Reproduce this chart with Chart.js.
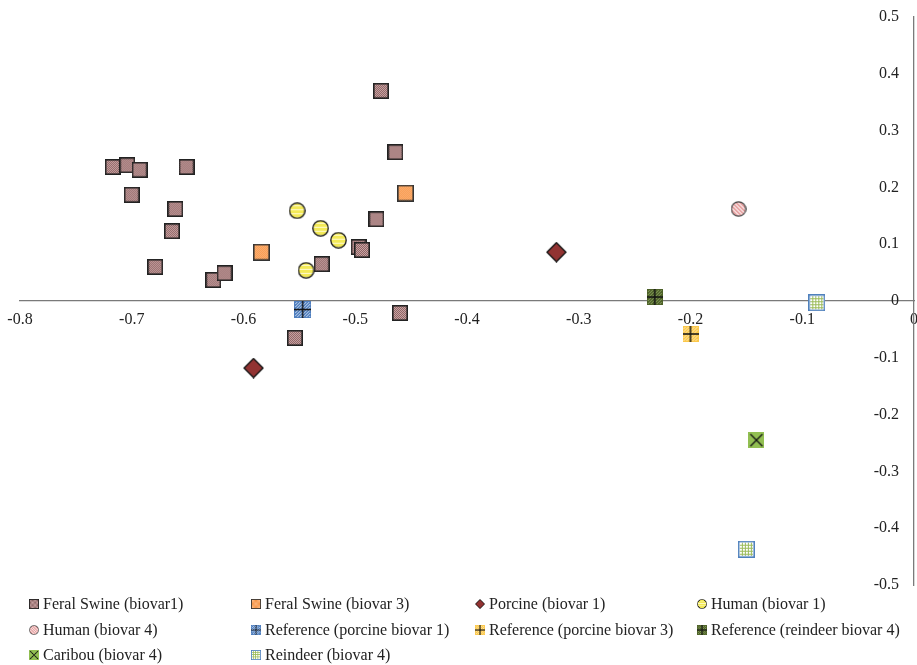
<!DOCTYPE html>
<html>
<head>
<meta charset="utf-8">
<script src="https://cdn.jsdelivr.net/npm/chart.js@4"></script>
<style>
  body { margin: 0; background: #fff; }
  canvas { display: block; }
</style>
</head>
<body>
<canvas id="pca-chart" width="917" height="665"></canvas>
<script>
// Scatter of the first two coordinates, one series per group

const seriesLabels = [
    "Feral Swine (biovar1)",
    "Feral Swine (biovar 3)",
    "Porcine (biovar 1)",
    "Human (biovar 1)",
    "Human (biovar 4)",
    "Reference (porcine biovar 1)",
    "Reference (porcine biovar 3)",
    "Reference (reindeer biovar 4)",
    "Caribou (biovar 4)",
    "Reindeer (biovar 4)",
];

const feralSwine1X = [-0.477, -0.464, -0.717, -0.704, -0.693, -0.651, -0.700, -0.661, -0.664, -0.679, -0.627, -0.617, -0.481, -0.497, -0.494, -0.530, -0.460, -0.554];
const feralSwine1Y = [0.370, 0.262, 0.236, 0.239, 0.231, 0.236, 0.187, 0.162, 0.123, 0.060, 0.037, 0.049, 0.144, 0.095, 0.090, 0.065, -0.021, -0.065];
const feralSwine3X = [-0.584, -0.455];
const feralSwine3Y = [0.086, 0.190];
const porcine1X = [-0.320, -0.591];
const porcine1Y = [0.086, -0.118];
const human1X = [-0.552, -0.531, -0.515, -0.544];
const human1Y = [0.159, 0.128, 0.107, 0.054];
const human4X = [-0.157];
const human4Y = [0.162];
const refPorcine1X = [-0.547];
const refPorcine1Y = [-0.015];
const refPorcine3X = [-0.200];
const refPorcine3Y = [-0.058];
const refReindeer4X = [-0.232];
const refReindeer4Y = [0.007];
const caribou4X = [-0.141];
const caribou4Y = [-0.245];
const reindeer4X = [-0.087, -0.150];
const reindeer4Y = [-0.003, -0.437];

const xTicks = [-0.8, -0.7, -0.6, -0.5, -0.4, -0.3, -0.2, -0.1, 0];
const yTicks = [-0.5, -0.4, -0.3, -0.2, -0.1, 0, 0.1, 0.2, 0.3, 0.4, 0.5];

// small canvases used as point styles
function makeMarker(size, draw) {
    const c = document.createElement("canvas");
    c.width = size;
    c.height = size;
    draw(c.getContext("2d"), size);
    return c;
}

function dots(ctx, s, color, step) {
    ctx.fillStyle = color;
    for (let i = 1; i < s - 1; i++) {
        for (let j = 1; j < s - 1; j++) {
            if ((i + j) % step === 0) ctx.fillRect(i, j, 1, 1);
        }
    }
}

function plus(ctx, s) {
    ctx.strokeStyle = "#111";
    ctx.lineWidth = 1.5;
    ctx.beginPath();
    ctx.moveTo(s / 2, 0);
    ctx.lineTo(s / 2, s);
    ctx.moveTo(0, s / 2);
    ctx.lineTo(s, s / 2);
    ctx.stroke();
}

const markers = [
    makeMarker(16, (ctx, s) => {
        ctx.fillStyle = "#8a6262";
        ctx.fillRect(0, 0, s, s);
        dots(ctx, s, "#cfa8a8", 2);
        ctx.strokeStyle = "#222";
        ctx.lineWidth = 1.6;
        ctx.strokeRect(0.8, 0.8, s - 1.6, s - 1.6);
    }),
    makeMarker(17, (ctx, s) => {
        ctx.fillStyle = "#f7913e";
        ctx.fillRect(0, 0, s, s);
        dots(ctx, s, "#fdbb88", 2);
        ctx.strokeStyle = "#333";
        ctx.lineWidth = 1.6;
        ctx.strokeRect(0.8, 0.8, s - 1.6, s - 1.6);
    }),
    makeMarker(21, (ctx, s) => {
        ctx.beginPath();
        ctx.moveTo(s / 2, 1);
        ctx.lineTo(s - 1, s / 2);
        ctx.lineTo(s / 2, s - 1);
        ctx.lineTo(1, s / 2);
        ctx.closePath();
        ctx.fillStyle = "#923332";
        ctx.fill();
        ctx.strokeStyle = "#111";
        ctx.lineWidth = 1.3;
        ctx.stroke();
    }),
    makeMarker(17, (ctx, s) => {
        const r = s / 2 - 0.8;
        ctx.beginPath();
        ctx.arc(s / 2, s / 2, r, 0, Math.PI * 2);
        ctx.fillStyle = "#f3ea58";
        ctx.fill();
        ctx.save();
        ctx.clip();
        ctx.fillStyle = "#fffbd0";
        for (let y = 3; y < s; y += 4) ctx.fillRect(0, y, s, 1);
        ctx.restore();
        ctx.strokeStyle = "#1a1a1a";
        ctx.lineWidth = 1.3;
        ctx.stroke();
    }),
    makeMarker(16, (ctx, s) => {
        const r = s / 2 - 0.8;
        ctx.beginPath();
        ctx.arc(s / 2, s / 2, r, 0, Math.PI * 2);
        ctx.fillStyle = "#fff";
        ctx.fill();
        ctx.save();
        ctx.clip();
        ctx.strokeStyle = "#e59a9a";
        ctx.lineWidth = 1.8;
        for (let k = -s; k < s * 2; k += 4) {
            ctx.beginPath();
            ctx.moveTo(k, 0);
            ctx.lineTo(k + s, s);
            ctx.stroke();
        }
        ctx.restore();
        ctx.beginPath();
        ctx.arc(s / 2, s / 2, r, 0, Math.PI * 2);
        ctx.strokeStyle = "#444";
        ctx.lineWidth = 1.2;
        ctx.stroke();
    }),
    makeMarker(17, (ctx, s) => {
        ctx.fillStyle = "#4f7fbf";
        ctx.fillRect(0, 0, s, s);
        dots(ctx, s, "#c8d8ee", 3);
        plus(ctx, s);
    }),
    makeMarker(16, (ctx, s) => {
        ctx.fillStyle = "#fbc84c";
        ctx.fillRect(0, 0, s, s);
        dots(ctx, s, "#ffe7a6", 3);
        plus(ctx, s);
    }),
    makeMarker(16, (ctx, s) => {
        ctx.fillStyle = "#4d6128";
        ctx.fillRect(0, 0, s, s);
        dots(ctx, s, "#8aa060", 3);
        plus(ctx, s);
    }),
    makeMarker(16, (ctx, s) => {
        ctx.fillStyle = "#92bf52";
        ctx.fillRect(0, 0, s, s);
        ctx.strokeStyle = "#111";
        ctx.lineWidth = 1.3;
        ctx.beginPath();
        ctx.moveTo(2, 2);
        ctx.lineTo(s - 2, s - 2);
        ctx.moveTo(s - 2, 2);
        ctx.lineTo(2, s - 2);
        ctx.stroke();
    }),
    makeMarker(17, (ctx, s) => {
        ctx.fillStyle = "#fff";
        ctx.fillRect(0, 0, s, s);
        ctx.fillStyle = "#9bbb59";
        for (let k = 4; k < s - 2; k += 3) {
            ctx.fillRect(k, 2, 1, s - 4);
            ctx.fillRect(2, k, s - 4, 1);
        }
        ctx.strokeStyle = "#4f81bd";
        ctx.lineWidth = 1.5;
        ctx.strokeRect(0.75, 0.75, s - 1.5, s - 1.5);
    }),
];

const seriesX = [feralSwine1X, feralSwine3X, porcine1X, human1X, human4X, refPorcine1X, refPorcine3X, refReindeer4X, caribou4X, reindeer4X];
const seriesY = [feralSwine1Y, feralSwine3Y, porcine1Y, human1Y, human4Y, refPorcine1Y, refPorcine3Y, refReindeer4Y, caribou4Y, reindeer4Y];

const datasets = seriesLabels.map((label, i) => ({
    label: label,
    data: seriesX[i].map((x, k) => ({ x: x, y: seriesY[i][k] })),
    pointStyle: markers[i],
    pointRadius: 8,
}));

// legend drawn as a 4 column grid under the plot
const legendCols = [34, 256, 480, 702];
const legendRows = [604, 630, 655];
const gridLegend = {
    id: "gridLegend",
    afterDraw(chart) {
        const ctx = chart.ctx;
        ctx.save();
        ctx.font = '16px "Liberation Serif"';
        ctx.fillStyle = "#222";
        ctx.textBaseline = "middle";
        chart.data.datasets.forEach((ds, i) => {
            const mx = legendCols[i % 4];
            const my = legendRows[Math.floor(i / 4)];
            ctx.drawImage(ds.pointStyle, mx - 5, my - 5, 10, 10);
            ctx.fillText(ds.label, mx + 9, my + 1);
        });
        ctx.restore();
    },
};

// axes sit on the data, so keep them out of the layout
function noSpace(axis) {
    axis.paddingLeft = 0;
    axis.paddingRight = 0;
    axis.paddingTop = 0;
    axis.paddingBottom = 0;
    if (axis.isHorizontal()) axis.height = 0;
    else axis.width = 0;
}

const tickFont = { family: "Liberation Serif", size: 16 };
const fmt = (v) => String(Math.round(v * 10) / 10);

new Chart(document.getElementById("pca-chart"), {
    type: "scatter",
    data: { datasets: datasets },
    options: {
        responsive: false,
        animation: false,
        layout: { autoPadding: false, padding: { left: 20, right: 3, top: 17, bottom: 80 } },
        plugins: {
            legend: { display: false },
            tooltip: { enabled: false },
        },
        scales: {
            x: {
                type: "linear",
                min: xTicks[0],
                max: xTicks[xTicks.length - 1],
                position: { y: 0 },
                afterBuildTicks: (axis) => { axis.ticks = xTicks.map((v) => ({ value: v })); },
                afterFit: noSpace,
                grid: { display: false, drawTicks: false },
                border: { color: "#7a7a7a", width: 1.3 },
                ticks: { color: "#222", font: tickFont, padding: 9, maxRotation: 0, autoSkip: false, callback: fmt },
            },
            y: {
                type: "linear",
                min: yTicks[0],
                max: yTicks[yTicks.length - 1],
                position: "right",
                afterBuildTicks: (axis) => { axis.ticks = yTicks.map((v) => ({ value: v })); },
                afterFit: noSpace,
                grid: { display: false, drawTicks: false },
                border: { color: "#7a7a7a", width: 1.3 },
                ticks: { color: "#222", font: tickFont, mirror: true, crossAlign: "near", padding: -15, autoSkip: false, callback: fmt },
            },
        },
    },
    plugins: [gridLegend],
});
</script>
</body>
</html>
